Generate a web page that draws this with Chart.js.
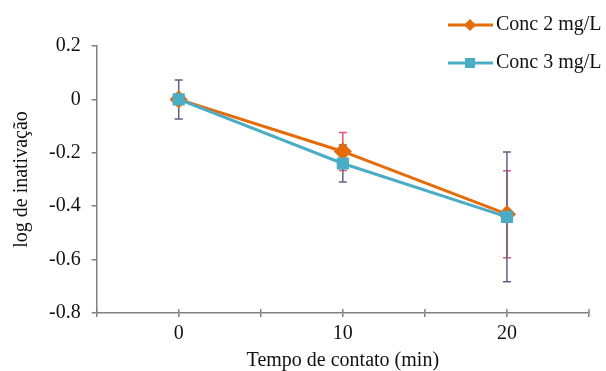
<!DOCTYPE html>
<html>
<head>
<meta charset="utf-8">
<script src="https://cdn.jsdelivr.net/npm/chart.js@4"></script>
<style>
  html, body { margin: 0; padding: 0; background: #fff; }
  #wrap { width: 606px; height: 371px; }
</style>
</head>
<body>
<div id="wrap"><canvas id="chart" width="606" height="371"></canvas></div>
<script>
// dados
const tempos = [0, 10, 20];
const conc2 = [0, -0.195, -0.43];
const conc3 = [0, -0.24, -0.44];
const erro2 = [0, 0.071, 0.163];
const erro3 = [0.073, 0.069, 0.243];
const nomes = ['Conc 2 mg/L', 'Conc 3 mg/L'];

const corLaranja = '#E46C0A';
const corAzul = '#4BACC6';
const serif = '"Liberation Serif", "DejaVu Serif", serif';

// barras de erro desenhadas com as escalas do gráfico
const errorBars = {
  id: 'errorBars',
  beforeDatasetsDraw(chart) {
    const ctx = chart.ctx;
    const xs = chart.scales.x, ys = chart.scales.y;
    chart.data.datasets.forEach(ds => {
      ctx.save();
      ctx.strokeStyle = ds.errColor;
      ctx.lineWidth = 1.5;
      ds.data.forEach((p, i) => {
        const e = ds.errors[i];
        if (!e) return;
        const x = xs.getPixelForValue(p.x);
        const y1 = ys.getPixelForValue(p.y + e);
        const y2 = ys.getPixelForValue(p.y - e);
        ctx.beginPath();
        ctx.moveTo(x, y1); ctx.lineTo(x, y2);
        ctx.moveTo(x - 4, y1); ctx.lineTo(x + 4, y1);
        ctx.moveTo(x - 4, y2); ctx.lineTo(x + 4, y2);
        ctx.stroke();
      });
      ctx.restore();
    });
    // marcas do eixo x cruzando o eixo
    ctx.save();
    ctx.strokeStyle = '#808080';
    ctx.lineWidth = 1.5;
    xs.ticks.forEach(t => {
      const x = xs.getPixelForValue(t.value);
      ctx.beginPath();
      ctx.moveTo(x, xs.top); ctx.lineTo(x, xs.top - 4);
      ctx.stroke();
    });
    ctx.restore();
  }
};

// legenda no canto superior direito
const legenda = {
  id: 'legenda',
  afterDraw(chart) {
    const ctx = chart.ctx;
    chart.data.datasets.forEach((ds, i) => {
      const y = 25 + i * 38;
      ctx.save();
      ctx.strokeStyle = ds.borderColor;
      ctx.lineWidth = 3;
      ctx.beginPath();
      ctx.moveTo(448, y); ctx.lineTo(493, y);
      ctx.stroke();
      ctx.fillStyle = ds.borderColor;
      ctx.beginPath();
      if (ds.pointStyle === 'rectRot') {
        ctx.moveTo(470, y - 6); ctx.lineTo(476, y); ctx.lineTo(470, y + 6); ctx.lineTo(464, y);
      } else {
        ctx.rect(465, y - 5, 10, 10);
      }
      ctx.fill();
      ctx.fillStyle = '#111';
      ctx.font = '20px ' + serif;
      ctx.textBaseline = 'middle';
      ctx.fillText(ds.label, 496, y);
      ctx.restore();
    });
  }
};

new Chart(document.getElementById('chart'), {
  type: 'line',
  data: {
    datasets: [
      {
        label: nomes[0],
        data: tempos.map((t, i) => ({ x: t, y: conc2[i] })),
        errors: erro2,
        errColor: '#E0566E',
        borderColor: corLaranja,
        backgroundColor: corLaranja,
        borderWidth: 3,
        pointStyle: 'rectRot',
        pointRadius: 7,
        pointHoverRadius: 7,
        order: 2
      },
      {
        label: nomes[1],
        data: tempos.map((t, i) => ({ x: t, y: conc3[i] })),
        errors: erro3,
        errColor: '#5B6385',
        borderColor: corAzul,
        backgroundColor: corAzul,
        borderWidth: 3,
        pointStyle: 'rect',
        pointRadius: 6.5,
        pointHoverRadius: 6.5,
        order: 1
      }
    ]
  },
  options: {
    responsive: false,
    animation: false,
    layout: { padding: { top: 46, right: 17, bottom: 0, left: 10 } },
    plugins: {
      legend: { display: false },
      tooltip: { enabled: false }
    },
    scales: {
      x: {
        type: 'linear',
        min: -5, max: 25,
        border: { color: '#808080', width: 1.5 },
        grid: { display: true, drawOnChartArea: false, color: '#808080', tickLength: 4, lineWidth: 1.5 },
        ticks: {
          stepSize: 5,
          color: '#111',
          font: { family: serif, size: 20 },
          padding: 5,
          maxRotation: 0,
          autoSkip: false,
          callback: v => (v >= 0 && v % 10 === 0 && v < 25) ? String(v) : ''
        },
        title: {
          display: true,
          text: 'Tempo de contato (min)',
          color: '#111',
          font: { family: serif, size: 20, lineHeight: 1 },
          padding: { top: 0, bottom: 0 }
        }
      },
      y: {
        min: -0.8, max: 0.2,
        border: { color: '#808080', width: 1.5 },
        grid: { display: true, drawOnChartArea: false, color: '#808080', tickLength: 5, lineWidth: 1.5 },
        ticks: {
          stepSize: 0.2,
          color: '#111',
          font: { family: serif, size: 20 },
          padding: 11,
          callback: v => {
            const r = Math.round(v * 10) / 10;
            return r === 0 ? '0' : r.toFixed(1);
          }
        },
        title: {
          display: true,
          text: 'log de inativação',
          color: '#111',
          font: { family: serif, size: 20 },
          padding: { top: 0, bottom: 4 }
        }
      }
    }
  },
  plugins: [errorBars, legenda]
});
</script>
</body>
</html>
